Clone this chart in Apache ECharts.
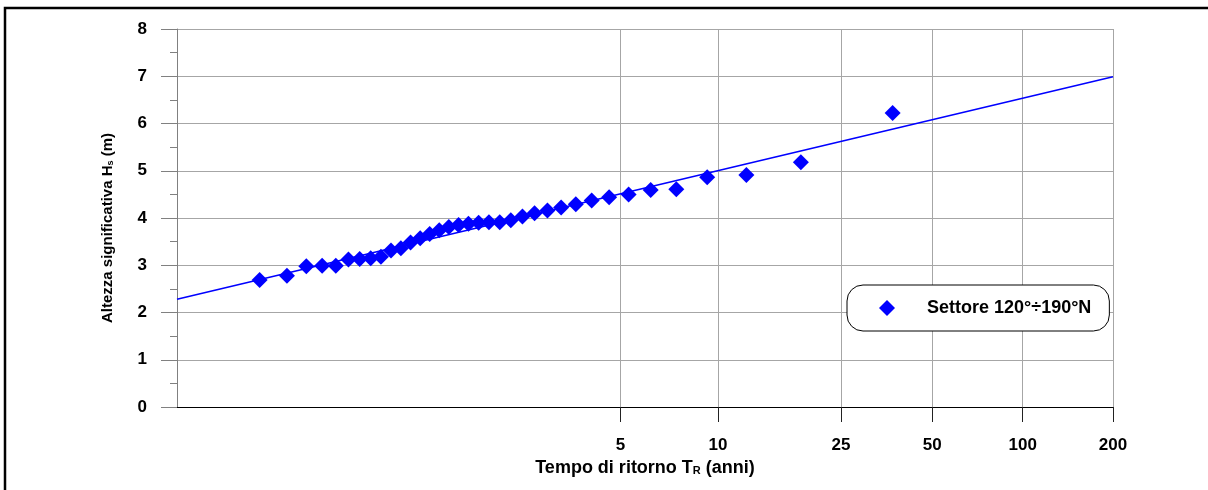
<!DOCTYPE html>
<html lang="it">
<head>
    <meta charset="UTF-8">
    <title>Settore 120°÷190°N</title>
    <script src="https://cdn.jsdelivr.net/npm/echarts@6/dist/echarts.min.js"></script>
    <style>
        html, body { margin: 0; padding: 0; background: #fff; }
        #chart { width: 1208px; height: 490px; }
    </style>
</head>
<body>
    <div id="chart"></div>
    <script>
        // tempo di ritorno dei punti (anni) e altezze
        var returnPeriods = [37, 18.5, 12.33, 9.25, 7.4, 6.167, 5.286, 4.625, 4.111, 3.7, 3.364, 3.083,
            2.846, 2.643, 2.467, 2.313, 2.176, 2.056, 1.947, 1.85, 1.762, 1.682, 1.609, 1.542,
            1.48, 1.423, 1.37, 1.321, 1.276, 1.233, 1.194, 1.156, 1.121, 1.088, 1.057, 1.028];
        var heights = [6.22, 5.18, 4.91, 4.86, 4.61, 4.59, 4.5, 4.44, 4.37, 4.29, 4.22, 4.16,
            4.1, 4.03, 3.95, 3.91, 3.91, 3.9, 3.88, 3.85, 3.81, 3.74, 3.66, 3.57,
            3.48, 3.36, 3.31, 3.18, 3.15, 3.13, 3.12, 2.99, 2.99, 2.98, 2.78, 2.69];

        // retta di regolazione (estremi)
        var fitT = [1.0011, 200];
        var fitH = [2.28, 6.99];

        // tacche asse x
        var xTicks = [5, 10, 25, 50, 100, 200];
        var xMinT = 1.0011;
        var xMaxT = 200;

        // variabile ridotta di Gumbel
        function gumbel(T) {
            return -Math.log(-Math.log(1 - 1 / T));
        }

        var tickU = xTicks.map(gumbel);
        var points = returnPeriods.map(function (t, i) { return [gumbel(t), heights[i]]; });
        var fitLine = fitT.map(function (t, i) { return [gumbel(t), fitH[i]]; });

        var chart = echarts.init(document.getElementById('chart'), null, { renderer: 'canvas' });

        var font = 'Liberation Sans, Arial, sans-serif';

        chart.setOption({
            animation: false,
            backgroundColor: '#fff',
            textStyle: { fontFamily: font, color: '#000' },
            graphic: [{
                type: 'rect',
                silent: true,
                shape: { x: 5, y: 8, width: 1400, height: 700 },
                style: { fill: 'none', stroke: '#000', lineWidth: 2.5 }
            }],
            grid: { left: 177, right: 95, top: 29, bottom: 83, containLabel: false },
            legend: {
                data: [{ name: 'Settore 120°÷190°N', icon: 'diamond' }],
                left: 847,
                top: 285,
                padding: [14, 18, 14, 32],
                itemWidth: 16,
                itemHeight: 16,
                borderColor: '#000',
                borderWidth: 1,
                borderRadius: 16,
                backgroundColor: '#fff',
                textStyle: { fontSize: 18, fontWeight: 'bold', color: '#000', fontFamily: font, padding: [0, 0, 0, 27] }
            },
            xAxis: {
                type: 'value',
                min: gumbel(xMinT),
                max: gumbel(xMaxT),
                name: 'Tempo di ritorno T{sub|R} (anni)',
                nameLocation: 'middle',
                nameGap: 50,
                nameTextStyle: {
                    fontSize: 18, fontWeight: 'bold', color: '#000', fontFamily: font,
                    rich: { sub: { fontSize: 11, fontWeight: 'bold', verticalAlign: 'bottom', fontFamily: font } }
                },
                axisLine: { onZero: false, lineStyle: { color: '#000', width: 1 } },
                axisTick: { show: true, length: 15, customValues: tickU, lineStyle: { color: '#222' } },
                axisLabel: {
                    customValues: tickU,
                    margin: 30,
                    fontSize: 17,
                    fontWeight: 'bold',
                    color: '#000',
                    formatter: function (v) {
                        var best = 0;
                        tickU.forEach(function (u, i) {
                            if (Math.abs(u - v) < Math.abs(tickU[best] - v)) best = i;
                        });
                        return String(xTicks[best]);
                    }
                },
                splitLine: { show: true, lineStyle: { color: '#a6a6a6', width: 1 } }
            },
            yAxis: {
                type: 'value',
                min: 0,
                max: 8,
                interval: 1,
                name: 'Altezza significativa H{sub|s} (m)',
                nameLocation: 'middle',
                nameRotate: 90,
                nameGap: 62,
                nameTextStyle: {
                    fontSize: 15, fontWeight: 'bold', color: '#000', fontFamily: font,
                    padding: [0, 20, 0, 0],
                    rich: { sub: { fontSize: 9, fontWeight: 'bold', verticalAlign: 'bottom', fontFamily: font } }
                },
                axisLine: { show: true, onZero: false, lineStyle: { color: '#808080', width: 1 } },
                axisTick: { show: true, length: 16, lineStyle: { color: '#808080' } },
                minorTick: { show: true, splitNumber: 2, length: 7, lineStyle: { color: '#808080' } },
                axisLabel: { margin: 30, fontSize: 17, fontWeight: 'bold', color: '#000' },
                splitLine: { show: true, lineStyle: { color: '#a6a6a6', width: 1 } }
            },
            series: [{
                name: 'retta',
                type: 'line',
                data: fitLine,
                showSymbol: false,
                silent: true,
                lineStyle: { color: '#0000ff', width: 1.6 },
                z: 2
            }, {
                name: 'Settore 120°÷190°N',
                type: 'scatter',
                data: points,
                symbol: 'diamond',
                symbolSize: 16,
                itemStyle: { color: '#0000ff', opacity: 1 },
                z: 3
            }]
        });
    </script>
</body>
</html>
